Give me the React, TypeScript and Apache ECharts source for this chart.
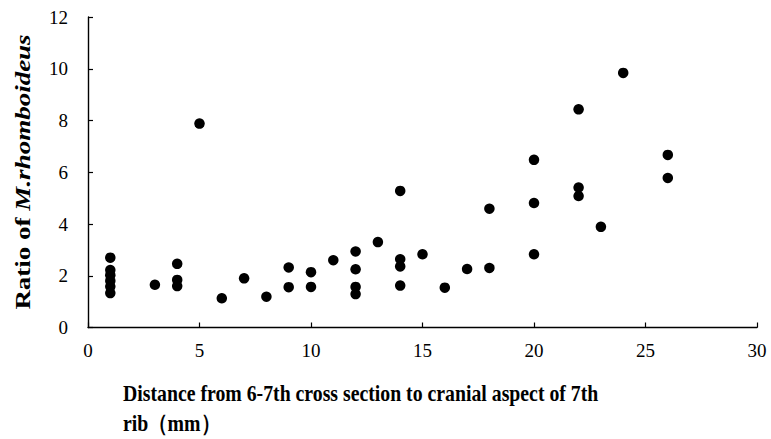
import React, { useEffect, useRef } from "react";
import * as echarts from "echarts";

const distances: number[] = [
  1, 1, 1, 1, 1, 1,
  3,
  4, 4, 4,
  5,
  6,
  7,
  8,
  9, 9,
  10, 10,
  11,
  12, 12, 12, 12,
  13,
  14, 14, 14, 14,
  15,
  16,
  17,
  18, 18,
  20, 20, 20,
  22, 22, 22,
  23,
  24,
  26, 26,
];
const ratios: number[] = [
  2.70, 2.22, 2.02, 1.80, 1.58, 1.33,
  1.65,
  2.46, 1.84, 1.60,
  7.88,
  1.13,
  1.90,
  1.19,
  2.32, 1.56,
  2.14, 1.57,
  2.60,
  2.94, 2.25, 1.57, 1.29,
  3.30,
  5.28, 2.64, 2.36, 1.62,
  2.83,
  1.54,
  2.26,
  4.59, 2.30,
  6.48, 4.81, 2.83,
  8.43, 5.41, 5.08,
  3.89,
  9.84,
  6.67, 5.78,
];

const xTitleLine1 = "Distance from 6-7th cross section to cranial aspect of 7th";
const xTitleLine2 = "rib（mm）";
const yTitlePlain = "Ratio of ";
const yTitleItalic = "M.rhomboideus";

const FONT = "'Liberation Serif', 'Times New Roman', serif";

export default function App() {
  const ref = useRef<HTMLDivElement>(null);
  useEffect(() => {
    if (!ref.current) return;
    const chart = echarts.init(ref.current, undefined, { renderer: "svg" });
    const data = distances.map((d, i) => [d, ratios[i]]);
    chart.setOption({
      animation: false,
      backgroundColor: "#ffffff",
      grid: { left: 88, right: 14, top: 17, bottom: 111.5, containLabel: false },
      xAxis: {
        type: "value",
        min: 0,
        max: 30,
        interval: 5,
        splitLine: { show: false },
        axisLine: { show: true, lineStyle: { color: "#000", width: 1.4 } },
        axisTick: { show: true, inside: true, length: 5, lineStyle: { color: "#000", width: 1.2 } },
        axisLabel: { color: "#000", fontFamily: FONT, fontSize: 19, margin: 13 },
      },
      yAxis: {
        type: "value",
        min: 0,
        max: 12,
        interval: 2,
        splitLine: { show: false },
        axisLine: { show: true, lineStyle: { color: "#000", width: 1.4 } },
        axisTick: { show: true, inside: true, length: 5, lineStyle: { color: "#000", width: 1.2 } },
        axisLabel: { color: "#000", fontFamily: FONT, fontSize: 19, margin: 20 },
      },
      graphic: [
        {
          type: "text",
          x: 23,
          y: 172,
          rotation: Math.PI / 2,
          scaleY: 0.75,
          style: {
            text: `{a|${yTitlePlain}}{b|${yTitleItalic}}`,
            align: "center",
            verticalAlign: "middle",
            rich: {
              a: { fontFamily: FONT, fontSize: 27, fontWeight: "bold", fill: "#000" },
              b: { fontFamily: FONT, fontSize: 27, fontWeight: "bold", fontStyle: "italic", fill: "#000" },
            },
          },
        },
        {
          type: "text",
          x: 123,
          y: 382,
          scaleX: 0.86,
          style: {
            text: xTitleLine1,
            fontFamily: FONT,
            fontSize: 23,
            fontWeight: "bold",
            fill: "#000",
            verticalAlign: "top",
          },
        },
        {
          type: "text",
          x: 123,
          y: 412,
          scaleX: 0.86,
          style: {
            text: xTitleLine2,
            fontFamily: FONT,
            fontSize: 23,
            fontWeight: "bold",
            fill: "#000",
            verticalAlign: "top",
          },
        },
      ],
      series: [
        {
          type: "scatter",
          data,
          symbol: "circle",
          symbolSize: 10.5,
          itemStyle: { color: "#000", opacity: 1 },
        },
      ],
    });
    return () => chart.dispose();
  }, []);
  return <div ref={ref} style={{ width: 771, height: 439, position: "absolute", left: 0, top: 0 }} />;
}
